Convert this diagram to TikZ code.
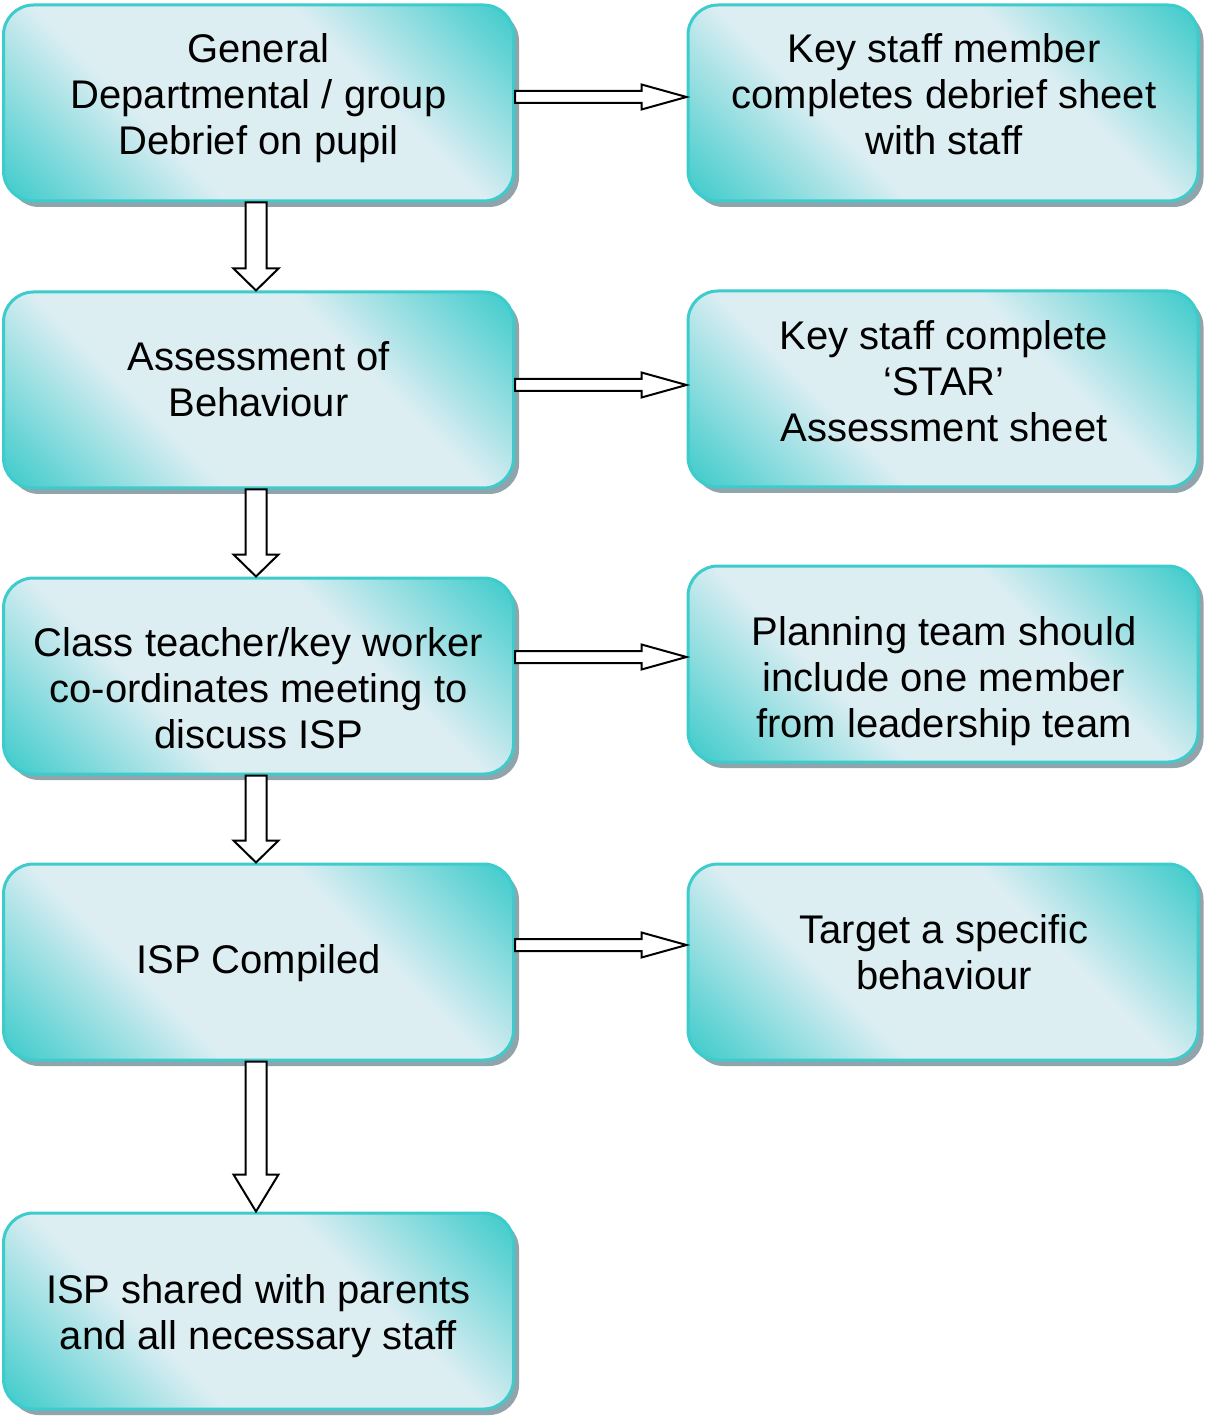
\documentclass[tikz,border=0pt]{standalone}
\usepackage{fontspec}
\setmainfont{Liberation Sans}
\usetikzlibrary{calc,shadows}
\definecolor{boxteal}{HTML}{3ECBCB}
\definecolor{boxlight}{HTML}{DDEEF3}
\definecolor{boxshadow}{HTML}{8FA5AB}
\pgfdeclareverticalshading{boxshade}{100bp}{color(0bp)=(boxteal); color(15bp)=(boxteal); color(37bp)=(boxlight); color(63bp)=(boxlight); color(85bp)=(boxteal); color(100bp)=(boxteal)}
\tikzstyle{box}=[rectangle, rounded corners=15pt, draw=boxteal, line width=1.5pt, minimum width=255pt, minimum height=98pt, shading=boxshade, shading angle=-45, drop shadow={shadow xshift=2.75pt, shadow yshift=-3pt, fill=boxshadow, opacity=1}]
\tikzstyle{box text}=[align=center, font=\fontsize{20pt}{23pt}\selectfont, inner sep=0pt]
\tikzstyle{block arrow}=[draw=black, fill=white, line width=1pt, line join=miter]

\begin{document}
\begin{tikzpicture}[x=0.5pt, y=-0.5pt]
  \useasboundingbox (0,0) rectangle (1205,1416);

  % The boxes, left column then right column
  \foreach \pos/\name in {{(258.5,103)/gen}, {(258.5,390)/ass}, {(258.5,676)/cls}, {(258.5,962)/isp}, {(258.5,1311)/shr}, {(943,103)/key}, {(943,389)/star}, {(943,664)/plan}, {(943,962)/tgt}} {
    \node[box] (\name) at \pos {};
  }

  % The words in the boxes
  \foreach \pos/\name/\words in {
      {(258.5,98)/gen/{General\\Departmental / group\\Debrief on pupil}},
      {(258.5,379)/ass/{Assessment of\\Behaviour}},
      {(258.5,688)/cls/{Class teacher/key worker\\co-ordinates meeting to\\discuss ISP}},
      {(258.5,963)/isp/{ISP Compiled}},
      {(258.5,1316)/shr/{ISP shared with parents\\and all necessary staff}},
      {(944,94)/key/{Key staff member\\completes debrief sheet\\with staff}},
      {(944,381)/star/{Key staff complete\\‘STAR’\\Assessment sheet}},
      {(944,681)/plan/{Planning team should\\include one member\\from leadership team}},
      {(944,952)/tgt/{Target a specific\\behaviour}}} {
    \node[box text] (\name-text) at \pos {\words};
  }

  % Arrows across to the right
  \foreach \from/\to/\y in {gen/key/97, ass/star/385, cls/plan/657, isp/tgt/945} {
    \coordinate (tail) at (\from.east |- 0,\y);
    \coordinate (tip) at (\to.west |- 0,\y);
    \path[block arrow] ($(tail)+(0,-6)$) -- ($(tip)+(-45,-6)$) -- ($(tip)+(-45,-12.5)$) -- (tip)
      -- ($(tip)+(-45,12.5)$) -- ($(tip)+(-45,6)$) -- ($(tail)+(0,6)$) -- cycle;
  }

  % Arrows down the left column
  \foreach \from/\to/\h in {gen/ass/22, ass/cls/22, cls/isp/22, isp/shr/37} {
    \coordinate (tail) at (\from.south -| 256,0);
    \coordinate (tip) at (\to.north -| 256,0);
    \path[block arrow] ($(tail)+(-10.5,0)$) -- ($(tip)+(-10.5,-\h)$) -- ($(tip)+(-22.5,-\h)$) -- (tip)
      -- ($(tip)+(22.5,-\h)$) -- ($(tip)+(10.5,-\h)$) -- ($(tail)+(10.5,0)$) -- cycle;
  }

\end{tikzpicture}
\end{document}
